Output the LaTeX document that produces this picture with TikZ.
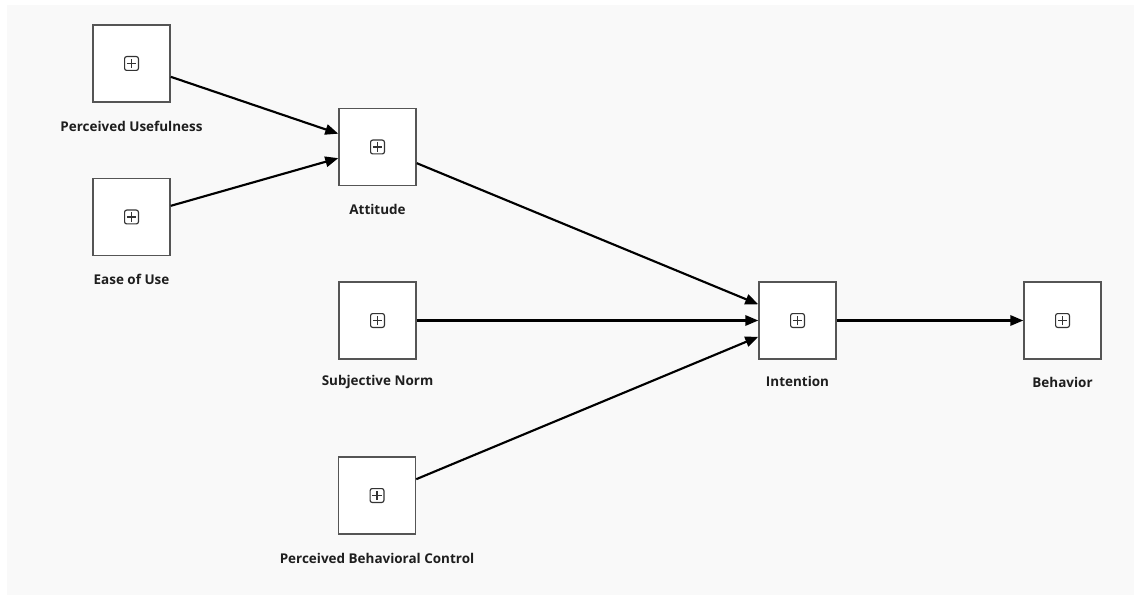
\documentclass[tikz,border=0pt]{standalone}
\usepackage{fontspec}
\setmainfont{Open Sans}[BoldFont={* Bold}]
\usetikzlibrary{arrows.meta}
\definecolor{panel}{HTML}{F9F9F9}
\definecolor{boxedge}{HTML}{555555}
\definecolor{ink}{HTML}{1E1E1E}
\definecolor{iconedge}{HTML}{333333}
\begin{document}
\begin{tikzpicture}[x=0.75pt,y=-0.75pt,
  construct/.style={draw=boxedge, fill=white, line width=1.1pt,
    minimum size=57.75pt, inner sep=0pt,
    path picture={
      \draw[iconedge, line width=0.85pt, rounded corners=1.6pt]
        ([shift={(-5.2pt,-5.2pt)}]path picture bounding box.center)
        rectangle ([shift={(5.2pt,5.2pt)}]path picture bounding box.center);
      \draw[iconedge, line width=0.85pt]
        ([xshift=-3.4pt]path picture bounding box.center) --
        ([xshift=3.4pt]path picture bounding box.center);
      \draw[iconedge, line width=0.85pt]
        ([yshift=-3.4pt]path picture bounding box.center) --
        ([yshift=3.4pt]path picture bounding box.center);
    }},
  lbl/.style={text=ink, font=\bfseries\fontsize{10.1pt}{12pt}\selectfont, inner sep=0pt},
  link/.style={draw=black, line width=1.6pt,
    -{Triangle[length=9.75pt, width=7.8pt]}}
]
% canvas
\useasboundingbox (0,0) rectangle (1134,595);
\fill[white] (0,0) rectangle (1134,595);
\fill[panel] (7,5) rectangle (1134,595);

% constructs
\node[construct] (pu)  at (131.5,63.5)  {};
\node[construct] (eou) at (131.5,217)   {};
\node[construct] (att) at (377.5,147)   {};
\node[construct] (sn)  at (377.5,320.5) {};
\node[construct] (pbc) at (377,495.5)   {};
\node[construct] (int) at (797.5,320.5) {};
\node[construct] (beh) at (1062.5,320.5){};

% construct names
\node[lbl] (pu-l)  at (131.5,126) {Perceived Usefulness};
\node[lbl] (eou-l) at (131.5,279) {Ease of Use};
\node[lbl] (att-l) at (377.5,209) {Attitude};
\node[lbl] (sn-l)  at (377.5,382) {Subjective Norm};
\node[lbl] (pbc-l) at (377,558)   {Perceived Behavioral Control};
\node[lbl] (int-l) at (797.5,381) {Intention};
\node[lbl] (beh-l) at (1062.5,382){Behavior};

% paths
\draw[link] (pu)  -- (att);
\draw[link] (eou) -- (att);
\draw[link] (att) -- (int);
\draw[link] (sn)  -- (int);
\draw[link] (pbc) -- (int);
\draw[link] (int) -- (beh);
\end{tikzpicture}
\end{document}
